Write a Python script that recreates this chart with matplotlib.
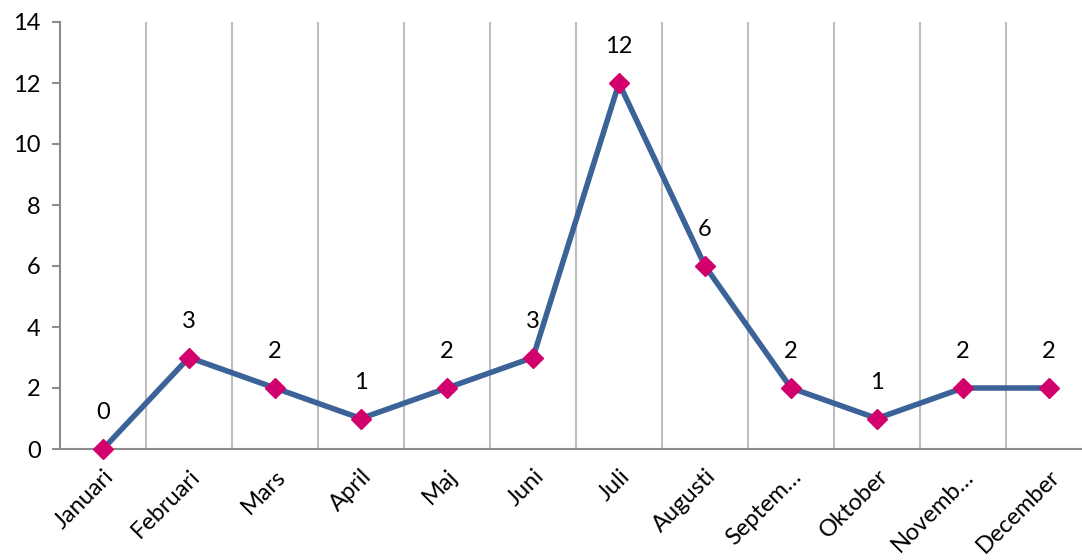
import matplotlib.pyplot as plt
import numpy as np

months = ['Januari', 'Februari', 'Mars', 'April', 'Maj', 'Juni', 'Juli',
          'Augusti', 'Septem\u2026', 'Oktober', 'Novemb\u2026', 'December']
values = [0, 3, 2, 1, 2, 3, 12, 6, 2, 1, 2, 2]
yticks = [0, 2, 4, 6, 8, 10, 12, 14]

plt.rcParams['font.family'] = ['Lato', 'DejaVu Sans']

W, H = 1082, 560
fig = plt.figure(figsize=(W / 100, H / 100), dpi=100)
# plot area runs a bit past the right edge, as in the original
ax = fig.add_axes([60 / W, (H - 449) / H, 1032 / W, 427 / H])

x = np.arange(len(months))
ax.plot(x, values, color='#3B6397', lw=4, zorder=3, clip_on=False)
ax.plot(x, values, ls='none', marker='D', ms=10, color='#D1006C',
        zorder=4, clip_on=False)

for xi, v in zip(x, values):
    ax.annotate(str(v), (xi, v), xytext=(0, 26), textcoords='offset points',
                ha='center', va='center', fontsize=17, color='black')

# vertical gridlines between categories
for b in np.arange(0.5, len(months) - 0.5):
    ax.axvline(b, color='#BEBEBE', lw=1.5, zorder=1)

ax.set_xlim(-0.5, len(months) - 0.5)
ax.set_ylim(0, 14)
ax.set_yticks(yticks)
ax.set_yticklabels([str(t) for t in yticks], fontsize=17)
ax.set_xticks(x)
ax.set_xticklabels(months, fontsize=17, rotation=45, ha='right',
                   rotation_mode='anchor')

for s in ['top', 'right']:
    ax.spines[s].set_visible(False)
for s in ['left', 'bottom']:
    ax.spines[s].set_color('#8C8C8C')
    ax.spines[s].set_linewidth(1.5)

ax.tick_params(axis='y', length=6, width=1.5, color='#8C8C8C', pad=8)
ax.tick_params(axis='x', length=0, pad=12)

fig.savefig('out.png', dpi=100)
